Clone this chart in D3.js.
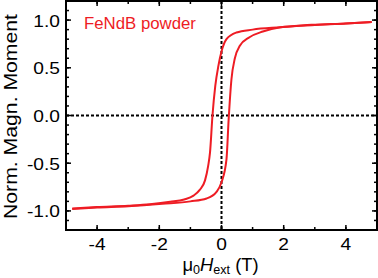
<!DOCTYPE html>
<html>
<head>
<meta charset="utf-8">
<script src="https://cdn.jsdelivr.net/npm/d3@7"></script>
<style>
  html, body { margin: 0; padding: 0; background: #fff; }
  svg { display: block; font-family: "Liberation Sans", Arial, sans-serif; }
</style>
</head>
<body>
<div class="js-chart"></div>
<script>
(function() {
  'use strict';

  /* ------------------------------------------------------------ *\
      Data
  \* ------------------------------------------------------------ */

  // descending field branch (upper), field in T, normalised moment
  var branchDownH = [-4.8, -4, -3, -2.3, -1.65, -1.2, -0.9, -0.7, -0.53, -0.43, -0.37, -0.29, -0.2, -0.1, 0, 0.16, 0.48, 1.0, 1.9, 2.9, 4, 4.83];
  var branchDownM = [-0.975, -0.96, -0.945, -0.93, -0.905, -0.88, -0.84, -0.78, -0.68, -0.53, -0.39, 0, 0.31, 0.52, 0.67, 0.8, 0.87, 0.9, 0.925, 0.95, 0.965, 0.98];

  // ascending field branch (lower)
  var branchUpH = [-4.8, -4, -3, -1.9, -1.0, -0.48, -0.16, 0, 0.16, 0.23, 0.32, 0.43, 0.59, 0.9, 1.33, 1.9, 2.3, 3, 4, 4.83];
  var branchUpM = [-0.98, -0.965, -0.95, -0.925, -0.9, -0.87, -0.8, -0.7, -0.46, -0.04, 0.38, 0.6, 0.73, 0.82, 0.88, 0.925, 0.935, 0.948, 0.963, 0.98];

  var xTicks = [-4, -2, 0, 2, 4];
  var yTicks = [-1.0, -0.5, 0.0, 0.5, 1.0];

  /* ------------------------------------------------------------ *\
      Layout
  \* ------------------------------------------------------------ */

  var width = 378;
  var height = 278;
  var frame = { left: 66, right: 377, top: 1, bottom: 230 };
  var curveColour = '#ee1c24';
  var stretch = 1.13; // the reference text is a bit wider than the font

  var x = d3.scaleLinear().domain([-5, 5]).range([frame.left, frame.right]);
  var y = d3.scaleLinear().domain([-1.2, 1.2]).range([frame.bottom, frame.top]);

  var svg = d3.select('.js-chart')
    .append('svg')
    .attr('width', width)
    .attr('height', height);

  /* ------------------------------------------------------------ *\
      Zero lines
  \* ------------------------------------------------------------ */

  svg.append('line')
    .attr('x1', x(0)).attr('x2', x(0))
    .attr('y1', frame.top).attr('y2', frame.bottom)
    .attr('stroke', '#000')
    .attr('stroke-width', 2)
    .attr('stroke-dasharray', '3,2');

  svg.append('line')
    .attr('x1', frame.left).attr('x2', frame.right)
    .attr('y1', y(0)).attr('y2', y(0))
    .attr('stroke', '#000')
    .attr('stroke-width', 2)
    .attr('stroke-dasharray', '3,2');

  /* ------------------------------------------------------------ *\
      Hysteresis loop
  \* ------------------------------------------------------------ */

  var line = d3.line()
    .x(function(d) { return x(d[0]); })
    .y(function(d) { return y(d[1]); })
    .curve(d3.curveMonotoneX);

  [[branchDownH, branchDownM], [branchUpH, branchUpM]].forEach(function(b) {
    var pts = b[0].map(function(h, i) { return [h, b[1][i]]; });
    svg.append('path')
      .attr('d', line(pts))
      .attr('fill', 'none')
      .attr('stroke', curveColour)
      .attr('stroke-width', 2);
  });

  /* ------------------------------------------------------------ *\
      Axes (ticks inside, mirrored)
  \* ------------------------------------------------------------ */

  var xMinor = d3.range(-5, 5.01, 1);
  var yMinor = d3.range(-12, 12.5, 1).map(function(v) { return v / 10; });

  function drawTicks(values, isX, len) {
    values.forEach(function(v) {
      if (isX) {
        var px = x(v);
        svg.append('line').attr('x1', px).attr('x2', px)
          .attr('y1', frame.bottom).attr('y2', frame.bottom - len)
          .attr('stroke', '#000').attr('stroke-width', 1.5);
        svg.append('line').attr('x1', px).attr('x2', px)
          .attr('y1', frame.top).attr('y2', frame.top + len)
          .attr('stroke', '#000').attr('stroke-width', 1.5);
      } else {
        var py = y(v);
        svg.append('line').attr('x1', frame.left).attr('x2', frame.left + len)
          .attr('y1', py).attr('y2', py)
          .attr('stroke', '#000').attr('stroke-width', 1.5);
        svg.append('line').attr('x1', frame.right).attr('x2', frame.right - len)
          .attr('y1', py).attr('y2', py)
          .attr('stroke', '#000').attr('stroke-width', 1.5);
      }
    });
  }

  drawTicks(xMinor, true, 3);
  drawTicks(xTicks, true, 5);
  drawTicks(yMinor, false, 3);
  drawTicks(yTicks, false, 5);

  svg.append('rect')
    .attr('x', frame.left)
    .attr('y', frame.top)
    .attr('width', frame.right - frame.left)
    .attr('height', frame.bottom - frame.top)
    .attr('fill', 'none')
    .attr('stroke', '#000')
    .attr('stroke-width', 2);

  svg.selectAll('.x-label')
    .data(xTicks)
    .enter().append('text')
    .attr('transform', function(d) { return 'translate(' + x(d) + ',250) scale(' + stretch + ',1)'; })
    .attr('text-anchor', 'middle')
    .attr('font-size', 17)
    .text(function(d) { return d3.format('d')(d).replace('−', '-'); });

  svg.selectAll('.y-label')
    .data(yTicks)
    .enter().append('text')
    .attr('transform', function(d) { return 'translate(60,' + (y(d) + 6.5) + ') scale(' + stretch + ',1)'; })
    .attr('text-anchor', 'end')
    .attr('font-size', 17)
    .text(function(d) { return d3.format('.1f')(d).replace('−', '-'); });

  /* ------------------------------------------------------------ *\
      Titles
  \* ------------------------------------------------------------ */

  svg.append('text')
    .attr('transform', 'translate(17,116.5) rotate(-90)')
    .attr('text-anchor', 'middle')
    .attr('font-size', 18.5)
    .attr('textLength', 205)
    .attr('lengthAdjust', 'spacingAndGlyphs')
    .text('Norm. Magn. Moment');

  var xTitle = svg.append('text')
    .attr('transform', 'translate(' + (x(0) - 1) + ',271) scale(1.05,1)')
    .attr('text-anchor', 'middle')
    .attr('font-size', 17.5);
  xTitle.append('tspan').text('μ');
  xTitle.append('tspan').attr('font-size', 12).attr('dy', 3).text('0');
  xTitle.append('tspan').attr('font-style', 'italic').attr('dy', -3).text('H');
  xTitle.append('tspan').attr('font-size', 12).attr('dy', 3).text('ext');
  xTitle.append('tspan').attr('dy', -3).text(' (T)');

  svg.append('text')
    .attr('transform', 'translate(84,29) scale(1.05,1)')
    .attr('font-size', 16)
    .attr('fill', curveColour)
    .text('FeNdB powder');
})();
</script>
</body>
</html>
